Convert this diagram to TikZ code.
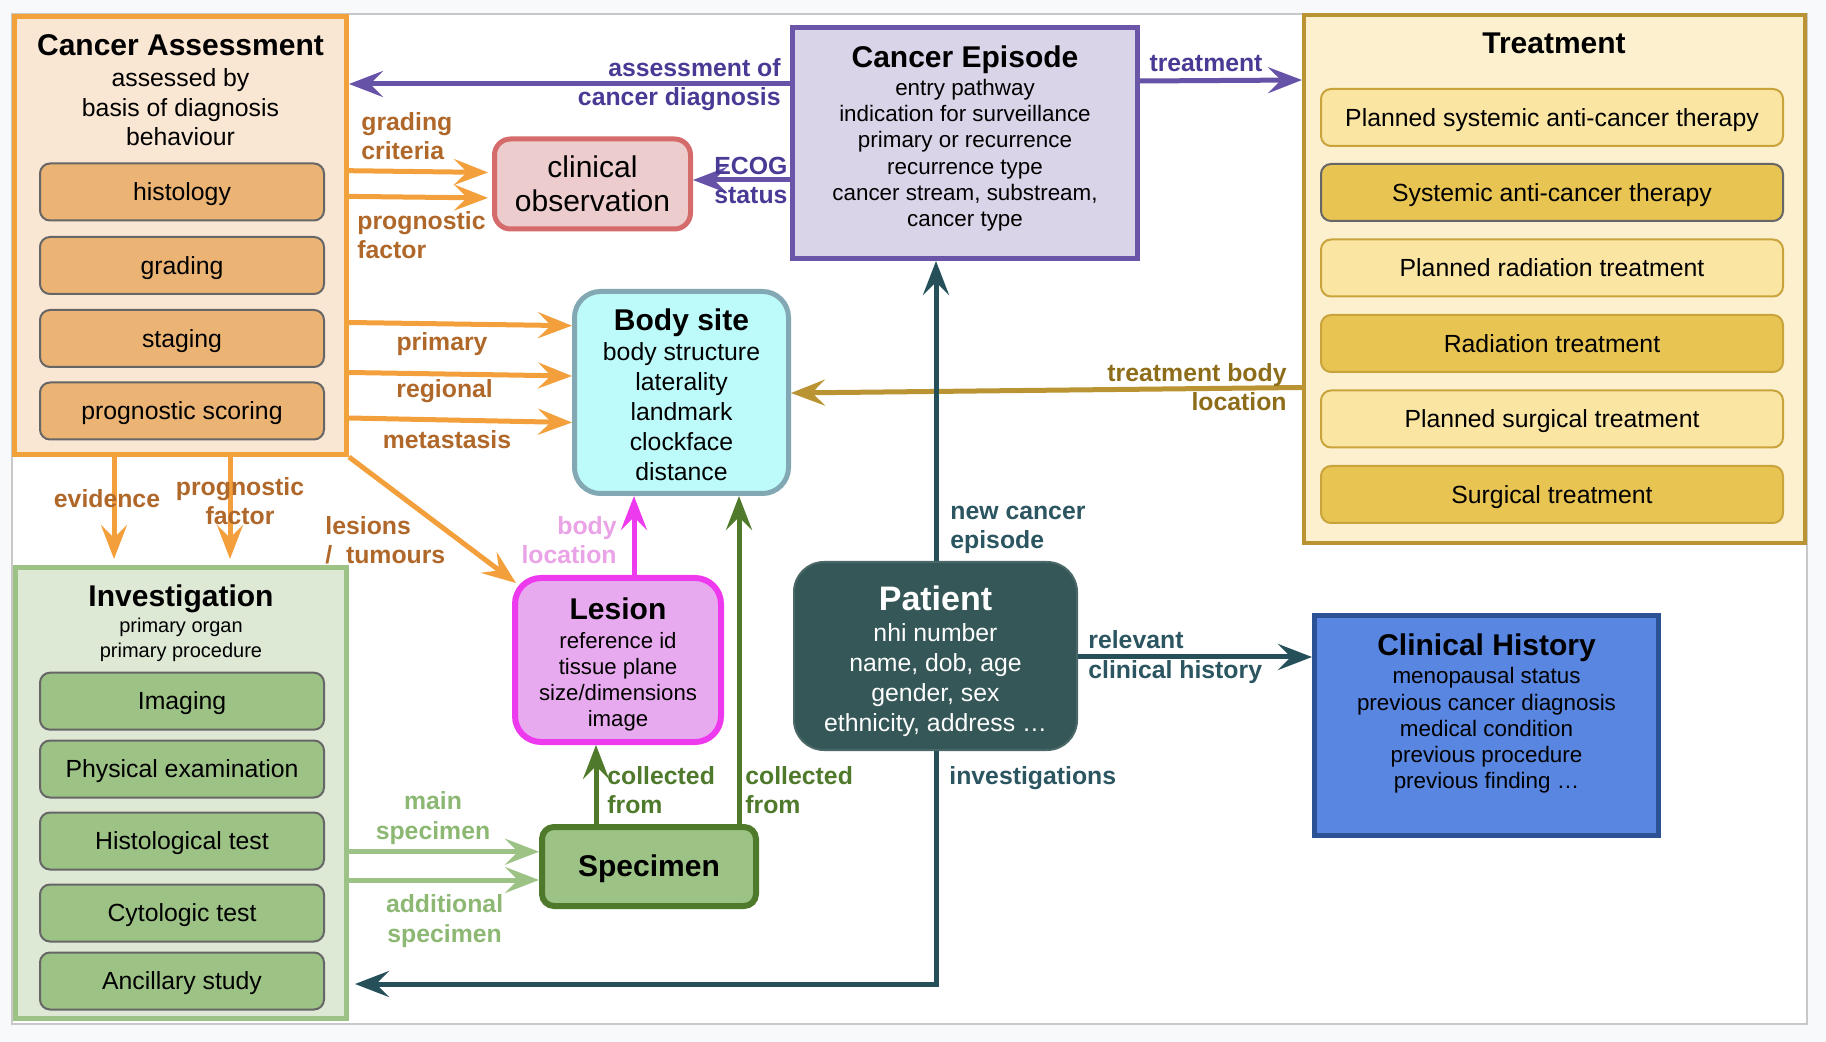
\documentclass[tikz,border=0pt]{standalone}
\usepackage{fontspec}
\setmainfont{Liberation Sans}
\usetikzlibrary{arrows.meta, calc}

\definecolor{bgcol}{HTML}{F8F9FB}
\definecolor{frame}{HTML}{C8C8C8}
\definecolor{itemedge}{HTML}{666666}
\definecolor{cafill}{HTML}{F9E6D3}
\definecolor{caedge}{HTML}{F2A23A}
\definecolor{caitem}{HTML}{ECB474}
\definecolor{orangeline}{HTML}{F3A03C}
\definecolor{orangetext}{HTML}{B0682A}
\definecolor{cefill}{HTML}{DAD4E8}
\definecolor{ceedge}{HTML}{6A55A8}
\definecolor{purpleline}{HTML}{6652A7}
\definecolor{purpletext}{HTML}{4B3A95}
\definecolor{cofill}{HTML}{ECCCCC}
\definecolor{coedge}{HTML}{D56B6B}
\definecolor{bsfill}{HTML}{BDFBFB}
\definecolor{bsedge}{HTML}{82A8B3}
\definecolor{lefill}{HTML}{E8AAEE}
\definecolor{leedge}{HTML}{EE3AEE}
\definecolor{pinktext}{HTML}{E9A3E6}
\definecolor{spfill}{HTML}{9DC285}
\definecolor{darkgreen}{HTML}{4F7A2B}
\definecolor{invfill}{HTML}{DDE8D5}
\definecolor{lightgreen}{HTML}{9DC285}
\definecolor{greentext}{HTML}{8DB873}
\definecolor{pafill}{HTML}{355757}
\definecolor{paedge}{HTML}{4A6868}
\definecolor{tealline}{HTML}{25505A}
\definecolor{tealtext}{HTML}{2B5560}
\definecolor{chfill}{HTML}{5886E0}
\definecolor{chedge}{HTML}{2A5294}
\definecolor{trfill}{HTML}{FCF0CE}
\definecolor{tredge}{HTML}{BA9432}
\definecolor{planfill}{HTML}{FBE5A2}
\definecolor{donefill}{HTML}{E8C453}
\definecolor{trinner}{HTML}{C9A43C}
\definecolor{goldtext}{HTML}{8D6D1A}

\begin{document}
\begin{tikzpicture}[x=0.5pt, y=-0.5pt,
  box/.style={draw, line width=2.5pt, inner sep=0pt},
  ttl/.style={font=\fontsize{15}{18}\selectfont\bfseries, inner sep=0pt, yshift=-1.1pt},
  txt/.style={font=\fontsize{12.4}{14.8}\selectfont, align=center, inner sep=0pt, yshift=-1.1pt},
  note/.style={font=\fontsize{11.2}{13.1}\selectfont, align=center, inner sep=0pt, yshift=-1.1pt},
  item/.style={draw=itemedge, line width=1pt, rounded corners=5pt, minimum width=142pt,
    minimum height=28.5pt, text height=11.2pt, text depth=2.6pt,
    font=\fontsize{12.4}{14.8}\selectfont},
  tritem/.style={item, draw=trinner, minimum width=231pt},
  lbl/.style={font=\fontsize{12.4}{14.6}\selectfont\bfseries, inner sep=0pt, yshift=-1pt},
  link/.style={line width=2.5pt, -{Stealth[length=17pt, width=13pt, inset=6.5pt]}},
]
    % Canvas
    \useasboundingbox (0,0) rectangle (1826,1042);
    \fill[bgcol] (0,0) rectangle (1826,1042);
    \draw[frame, fill=white, line width=1pt] (12,14) rectangle (1807,1024);

    % Cancer Assessment
    \node[box, draw=caedge, fill=cafill, minimum width=166pt, minimum height=219pt] (ca) at (180.5,235.5) {};
    \node[ttl] (catitle) at (180.5,43) {Cancer Assessment};
    \node[txt] (catext) at (180.5,105) {assessed by\\basis of diagnosis\\behaviour};
    \foreach \name/\lab/\y in {histology/histology/192, grading/grading/265.5,
        staging/staging/338.5, scoring/prognostic scoring/411}
        \node[item, fill=caitem] (\name) at (182,\y) {\lab};

    % Cancer Episode
    \node[box, draw=ceedge, fill=cefill, minimum width=172.5pt, minimum height=115.5pt] (ce) at (965,143) {};
    \node[ttl] (cetitle) at (965,57.5) {Cancer Episode};
    \node[note] (cetext) at (965,153) {entry pathway\\indication for surveillance\\primary or recurrence\\recurrence type\\cancer stream, substream,\\cancer type};

    % Treatment
    \node[box, draw=tredge, fill=trfill, line width=2pt, minimum width=250.5pt, minimum height=264pt] (tr) at (1554.5,279) {};
    \node[ttl] (trtitle) at (1554,41) {Treatment};
    \node[tritem, fill=planfill] (plansact) at (1552,117.5) {Planned systemic anti-cancer therapy};
    \node[tritem, fill=donefill, draw=itemedge] (sact) at (1552,192.5) {Systemic anti-cancer therapy};
    \node[tritem, fill=planfill] (planrad) at (1552,268) {Planned radiation treatment};
    \node[tritem, fill=donefill] (rad) at (1552,343.5) {Radiation treatment};
    \node[tritem, fill=planfill] (plansurg) at (1552,419) {Planned surgical treatment};
    \node[tritem, fill=donefill] (surg) at (1552,494.5) {Surgical treatment};

    % Clinical observation
    \node[box, draw=coedge, fill=cofill, rounded corners=8pt, minimum width=98pt, minimum height=45pt,
        font=\fontsize{15}{17}\selectfont, align=center] (co) at (592.5,184) {clinical\\observation};

    % Body site
    \node[box, draw=bsedge, fill=bsfill, rounded corners=13pt, minimum width=107pt, minimum height=101pt] (bs) at (681.5,392.5) {};
    \node[ttl] (bstitle) at (681.5,320.5) {Body site};
    \node[txt, font=\fontsize{12.4}{15}\selectfont] (bstext) at (681.5,409) {body structure\\laterality\\landmark\\clockface\\distance};

    % Lesion
    \node[box, draw=leedge, fill=lefill, line width=3pt, rounded corners=13pt, minimum width=103pt, minimum height=82pt] (le) at (618,660) {};
    \node[ttl] (letitle) at (618,607) {Lesion};
    \node[note, font=\fontsize{11.1}{13}\selectfont] (letext) at (618,679.5) {reference id\\tissue plane\\size/dimensions\\image};

    % Specimen
    \node[box, draw=darkgreen, fill=spfill, line width=3pt, rounded corners=6pt, minimum width=107pt, minimum height=39.5pt,
        text height=13.6pt, text depth=3.2pt, font=\fontsize{15}{18}\selectfont\bfseries] (sp) at (649,866.5) {Specimen};

    % Investigation
    \node[box, draw=lightgreen, fill=invfill, minimum width=165.5pt, minimum height=225.5pt] (inv) at (181,793) {};
    \node[ttl] (invtitle) at (181,596.7) {Investigation};
    \node[txt, font=\fontsize{10}{12.3}\selectfont] (invtext) at (181,637.5) {primary organ\\primary procedure};
    \foreach \name/\lab/\y in {imaging/Imaging/701.2, physical/Physical examination/769,
        histotest/Histological test/841, cytotest/Cytologic test/913, ancillary/Ancillary study/981}
        \node[item, fill=spfill] (\name) at (182,\y) {\lab};

    % Patient
    \node[box, draw=paedge, fill=pafill, line width=1pt, rounded corners=15pt, minimum width=141.5pt, minimum height=94pt] (pa) at (935.5,656) {};
    \node[ttl, white, font=\fontsize{17}{20}\selectfont\bfseries] (patitle) at (935.5,596.5) {Patient};
    \node[txt, white, font=\fontsize{12.4}{15}\selectfont] (patext) at (935.5,678.3) {nhi number\\name, dob, age\\gender, sex\\ethnicity, address \dots};

    % Clinical History
    \node[box, draw=chedge, fill=chfill, minimum width=172pt, minimum height=110pt] (ch) at (1486.5,725.5) {};
    \node[ttl] (chtitle) at (1486.5,646) {Clinical History};
    \node[note] (chtext) at (1486.5,728.3) {menopausal status\\previous cancer diagnosis\\medical condition\\previous procedure\\previous finding \dots};

    % Episode links
    \draw[link, purpleline] (ce.west |- 0,84) -- (ca.east |- 0,84);
    \node[lbl, purpletext, align=right, anchor=east] (assesslbl) at (781,83) {assessment of\\cancer diagnosis};
    \draw[link, purpleline] (ce.west |- 0,180) -- (co.east |- 0,180);
    \node[lbl, purpletext, align=left, anchor=west] (ecoglbl) at (714,178.5) {ECOG\\status};
    \draw[link, purpleline] (ce.east |- 0,81) -- (tr.west |- 0,80);
    \node[lbl, purpletext] (treatlbl) at (1206,62) {treatment};

    % Assessment links
    \draw[link, orangeline, shorten >=2pt] (ca.east |- 0,170.7) -- (co.west |- 0,172.5);
    \draw[link, orangeline, shorten >=2pt] (ca.east |- 0,196.4) -- (co.west |- 0,198);
    \node[lbl, orangetext, align=left, anchor=west] (gradinglbl) at (361,134.5) {grading\\criteria};
    \node[lbl, orangetext, align=left, anchor=west] (factorlbl) at (357,233) {prognostic\\factor};
    \draw[link, orangeline] (ca.east |- 0,322.5) -- (bs.west |- 0,325.7);
    \draw[link, orangeline] (ca.east |- 0,372.5) -- (bs.west |- 0,376);
    \draw[link, orangeline] (ca.east |- 0,418) -- (bs.west |- 0,422.5);
    \node[lbl, orangetext] (primarylbl) at (442,342) {primary};
    \node[lbl, orangetext] (regionallbl) at (444.6,389) {regional};
    \node[lbl, orangetext] (metalbl) at (447,438) {metastasis};
    \draw[link, orangeline, shorten >=3pt] (ca.south -| 114,0) -- (inv.north -| 114,0);
    \draw[link, orangeline, shorten >=3pt] (ca.south -| 230,0) -- (inv.north -| 230,0);
    \node[lbl, orangetext] (evidencelbl) at (107,497) {evidence};
    \node[lbl, orangetext, align=center] (factorlbl2) at (240,499) {prognostic\\factor};
    \draw[link, orangeline] (ca.south east) -- ([shift={(2pt,-4pt)}]le.north west);
    \node[lbl, orangetext, align=left, anchor=west] (lesionlbl) at (325,538) {lesions\\/~~tumours};

    % Lesion and specimen links
    \draw[link, leedge] (le.north -| 634,0) -- (bs.south -| 634,0);
    \node[lbl, pinktext, align=right, anchor=east] (bodylbl) at (617,538) {body\\location};
    \draw[link, darkgreen] (sp.north -| 596,0) -- (le.south -| 596,0);
    \node[lbl, darkgreen, align=left, anchor=west] (collectlbl) at (607,788) {collected\\from};
    \draw[link, darkgreen] (sp.north -| 739,0) -- (bs.south -| 739,0);
    \node[lbl, darkgreen, align=left, anchor=west] (collectlbl2) at (745,788) {collected\\from};
    \draw[link, lightgreen] (inv.east |- 0,851.7) -- (sp.west |- 0,851.7);
    \draw[link, lightgreen] (inv.east |- 0,880) -- (sp.west |- 0,880);
    \node[lbl, greentext, align=center] (mainlbl) at (433,816) {main\\specimen};
    \node[lbl, greentext, align=center] (addlbl) at (444.6,919) {additional\\specimen};

    % Treatment body location
    \draw[link, tredge] (tr.west |- 0,387.5) -- (bs.east |- 0,393);
    \node[lbl, goldtext, align=right, anchor=east] (trbodylbl) at (1287,385) {treatment body\\location};

    % Patient links
    \draw[link, tealline] (pa.north -| 936,0) -- (ce.south -| 936,0);
    \node[lbl, tealtext, align=left, anchor=west] (newlbl) at (950,528) {new cancer\\episode};
    \draw[link, tealline, shorten >=3pt] (pa.south -| 936,0) |- (inv.east |- 0,984);
    \node[lbl, tealtext, anchor=west] (invlbl) at (949,776) {investigations};
    \draw[link, tealline] (pa.east |- 0,657) -- (ch.west |- 0,657);
    \node[lbl, tealtext, align=left, anchor=west] (historylbl) at (1088,655) {relevant\\clinical history};
\end{tikzpicture}
\end{document}
